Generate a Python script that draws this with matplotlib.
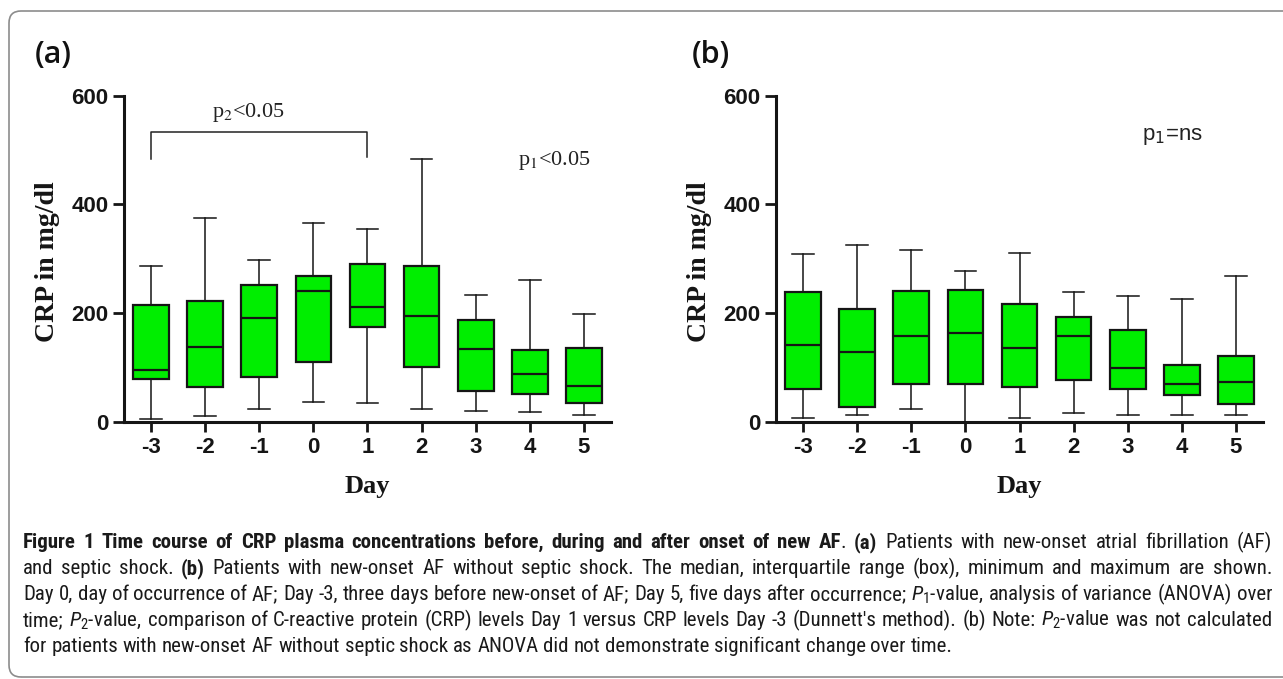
import matplotlib
matplotlib.use("Agg")
import matplotlib.pyplot as plt
from matplotlib import font_manager
from matplotlib.patches import FancyBboxPatch
from matplotlib.transforms import IdentityTransform

days = [-3, -2, -1, 0, 1, 2, 3, 4, 5]
day_labels = ["-3", "-2", "-1", "0", "1", "2", "3", "4", "5"]
yticks = [0, 200, 400, 600]

# (a) new-onset AF with septic shock: min, Q1, median, Q3, max (CRP mg/dl)
a_min = [5, 10, 23, 36, 34, 23, 20, 18, 12]
a_q1 = [78, 63, 82, 109, 174, 101, 57, 51, 35]
a_med = [95, 138, 191, 241, 212, 194, 133, 88, 65]
a_q3 = [214, 222, 251, 268, 291, 286, 187, 132, 136]
a_max = [286, 374, 298, 365, 355, 483, 234, 261, 199]

# (b) new-onset AF without septic shock
b_min = [7, 12, 24, 0, 6, 16, 12, 12, 12]
b_q1 = [60, 27, 70, 70, 64, 77, 60, 49, 33]
b_med = [141, 128, 158, 164, 136, 158, 98, 70, 73]
b_q3 = [239, 207, 241, 243, 216, 192, 168, 105, 121]
b_max = [308, 325, 316, 278, 310, 239, 232, 226, 268]

caption = [
    "**Figure 1 Time course of CRP plasma concentrations before, during and after onset of new AF**. **(a)** Patients with new-onset atrial fibrillation (AF)",
    "and septic shock. **(b)** Patients with new-onset AF without septic shock. The median, interquartile range (box), minimum and maximum are shown.",
    "Day 0, day of occurrence of AF; Day -3, three days before new-onset of AF; Day 5, five days after occurrence; $P_1$-value, analysis of variance (ANOVA) over",
    "time; $P_2$-value, comparison of C-reactive protein (CRP) levels Day 1 versus CRP levels Day -3 (Dunnett's method). (b) Note: $P_2$-value was not calculated",
    "for patients with new-onset AF without septic shock as ANOVA did not demonstrate significant change over time.",
]

W, H = 1283, 679
names = {f.name for f in font_manager.fontManager.ttflist}
cap_font = next(f for f in ["Liberation Sans Narrow", "Roboto Condensed", "Roboto", "Open Sans"]
                if f in names)
plt.rcParams["mathtext.fontset"] = "custom"
plt.rcParams["mathtext.rm"] = cap_font
plt.rcParams["mathtext.it"] = cap_font + ":italic"
plt.rcParams["mathtext.bf"] = cap_font + ":bold"

fig = plt.figure(figsize=(W / 100, H / 100), dpi=100)
fig.add_artist(FancyBboxPatch((9, 2), 1300, 666, boxstyle="round,pad=0,rounding_size=12",
                              transform=IdentityTransform(), facecolor="none",
                              edgecolor="#8c8c8c", linewidth=1.2))

green = "#00ee00"
dark = "#151515"


def panel(x0, mins, q1s, meds, q3s, maxs):
    ax = fig.add_axes([x0 / W, 1 - 421.7 / H, 487 / W, 326 / H])
    stats = [dict(whislo=lo, q1=q1, med=m, q3=q3, whishi=hi, fliers=[])
             for lo, q1, m, q3, hi in zip(mins, q1s, meds, q3s, maxs)]
    art = ax.bxp(stats, positions=days, widths=0.66, capwidths=0.4, patch_artist=True,
                 showfliers=False, manage_ticks=False,
                 boxprops=dict(facecolor=green, edgecolor=dark, linewidth=1.6),
                 medianprops=dict(color=dark, linewidth=1.6),
                 whiskerprops=dict(color=dark, linewidth=1.1),
                 capprops=dict(color=dark, linewidth=1.1))
    for k in art:
        for a in art[k]:
            a.set_clip_on(False)
    ax.set_xlim(-3.5, 5.5)
    ax.set_ylim(0, 600)
    for s in ["top", "right"]:
        ax.spines[s].set_visible(False)
    for s in ["left", "bottom"]:
        ax.spines[s].set_linewidth(2.2)
        ax.spines[s].set_color(dark)
        ax.spines[s].set_zorder(3)
    ax.set_xticks(days)
    ax.set_xticklabels(day_labels)
    ax.set_yticks(yticks)
    ax.set_yticklabels([str(v) for v in yticks])
    ax.tick_params(axis="x", length=7, width=2, pad=4, color=dark)
    ax.tick_params(axis="y", length=8, width=2, pad=3, color=dark)
    for lab in ax.get_xticklabels() + ax.get_yticklabels():
        lab.set_fontfamily("Liberation Sans")
        lab.set_fontweight("bold")
        lab.set_fontsize(16)
        lab.set_color(dark)
    ax.patch.set_visible(False)
    # axis titles
    fig.text((x0 - 76) / W, 1 - 262 / H, "CRP in mg/dl", rotation=90, ha="center", va="center",
             fontfamily="Liberation Serif", fontweight="bold", fontsize=20, color=dark)
    fig.text((x0 + 243) / W, 1 - 486 / H, "Day", ha="center", va="center",
             fontfamily="Liberation Serif", fontweight="bold", fontsize=19, color=dark)
    return ax


ax_a = panel(124, a_min, a_q1, a_med, a_q3, a_max)
ax_b = panel(776, b_min, b_q1, b_med, b_q3, b_max)

# bracket Day -3 vs Day 1
ax_a.plot([-3, -3, 1, 1], [483, 533, 533, 488], color="#222222", linewidth=1.1, clip_on=False)
ax_a.text(-1.2, 561, r"p$_2$<0.05", ha="center", va="baseline", fontfamily="Liberation Serif",
          fontsize=16, color="#222222", math_fontfamily="stix")
ax_a.text(4.45, 472, r"p$_1$<0.05", ha="center", va="baseline", fontfamily="Liberation Serif",
          fontsize=16, color="#222222", math_fontfamily="stix")
ax_b.text(3.82, 518, r"p$_1$=ns", ha="center", va="baseline", fontfamily="Liberation Sans",
          fontsize=16, color="#222222", math_fontfamily="dejavusans")

fig.text(35 / W, 1 - 55 / H, "(a)", ha="left", va="center", fontfamily="Open Sans",
         fontweight="semibold", fontsize=22, color="#111111")
fig.text(692 / W, 1 - 55 / H, "(b)", ha="left", va="center", fontfamily="Open Sans",
         fontweight="semibold", fontsize=22, color="#111111")


# caption, justified like the journal layout
def words_of(line):
    words = [[]]
    for i, chunk in enumerate(line.split("**")):
        bold = i % 2 == 1
        for j, p in enumerate(chunk.split(" ")):
            if j > 0:
                words.append([])
            if p:
                words[-1].append((p, bold))
    return [w for w in words if w]


renderer = fig.canvas.get_renderer()
left, right = 23, 1272
baselines = [548, 574, 600, 626, 652]
fs = 13


def measure(s, bold, size):
    t = fig.text(0, 0, s, fontfamily=cap_font, fontweight="bold" if bold else "normal",
                 fontsize=size)
    w = t.get_window_extent(renderer).width
    t.remove()
    return w


lines = [words_of(l) for l in caption]
space = measure("a a", False, fs) - measure("aa", False, fs)
widest = max(sum(measure(p, b, fs) for w in ws for p, b in w) + space * (len(ws) - 1)
             for ws in lines[:-1])
fs = min(15.5, fs * (right - left) / widest)
space = measure("a a", False, fs) - measure("aa", False, fs)

for n, (ws, yb) in enumerate(zip(lines, baselines)):
    widths = [[measure(p, b, fs) for p, b in w] for w in ws]
    total = sum(sum(w) for w in widths)
    gap = (right - left - total) / (len(ws) - 1) if n < len(lines) - 1 else space
    x = left
    for w, ww in zip(ws, widths):
        for (p, b), pw in zip(w, ww):
            fig.text(x / W, 1 - yb / H, p, ha="left", va="baseline", fontfamily=cap_font,
                     fontweight="bold" if b else "normal", fontsize=fs, color="#1a1a1a")
            x += pw
        x += gap

fig.savefig("out.png", dpi=100, facecolor="white")
